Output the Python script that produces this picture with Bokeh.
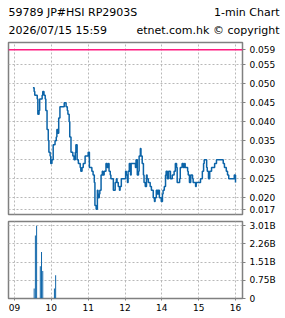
from bokeh.plotting import figure
from bokeh.models import Range1d, FixedTicker, Span, ColumnDataSource
from bokeh.layouts import column
from bokeh.embed import file_html
from bokeh.resources import INLINE
from bokeh.core.properties import value

# ---------------- data ----------------
title_left = "59789 JP#HSI  RP2903S"
title_right = "1-min Chart"
stamp = "2026/07/15 15:59"
credit = "etnet.com.hk \u00a9 copyright"

times = [
    "09:30", "09:32", "09:33", "09:37", "09:38", "09:40", "09:41", "09:45", "09:46", "09:48",
    "09:50", "09:51", "09:53", "09:55", "09:56", "09:58", "09:59", "10:01", "10:03", "10:06",
    "10:08", "10:09", "10:11", "10:12", "10:14", "10:21", "10:24", "10:26", "10:27", "10:29",
    "10:30", "10:32", "10:35", "10:37", "10:39", "10:40", "10:42", "10:44", "10:47", "10:48",
    "10:50", "10:52", "10:55", "11:00", "11:02", "11:06", "11:08", "11:10", "11:11", "11:13",
    "11:15", "11:16", "11:18", "11:19", "11:21", "11:23", "11:24", "11:26", "11:29", "11:31",
    "11:33", "11:34", "11:36", "11:37", "11:41", "11:44", "11:46", "11:47", "11:49", "11:51",
    "11:52", "11:54",
    "13:01", "13:02", "13:04", "13:05", "13:07", "13:09", "13:10", "13:17", "13:18", "13:20",
    "13:22", "13:23", "13:25", "13:26", "13:28", "13:30", "13:31", "13:33", "13:35", "13:36",
    "13:38", "13:41", "13:43", "13:46", "13:48", "13:49", "13:51", "13:53", "13:54", "13:56",
    "13:59", "14:01", "14:02", "14:04", "14:06", "14:07", "14:09", "14:11", "14:14", "14:17",
    "14:20", "14:22", "14:24", "14:25", "14:29", "14:30", "14:33", "14:35", "14:37", "14:38",
    "14:42", "14:43", "14:45", "14:47", "14:50", "14:51", "14:55", "14:56", "15:03", "15:06",
    "15:08", "15:09", "15:13", "15:14", "15:16", "15:18", "15:21", "15:26", "15:29", "15:40",
    "15:42", "15:45", "15:47", "15:49", "15:58", "16:00",
]
prices = [
    0.049, 0.048, 0.047, 0.046, 0.042, 0.043, 0.046, 0.047, 0.048, 0.047,
    0.046, 0.043, 0.038, 0.035, 0.032, 0.031, 0.029, 0.030, 0.034, 0.035,
    0.036, 0.038, 0.037, 0.041, 0.044, 0.045, 0.044, 0.043, 0.042, 0.040,
    0.036, 0.032, 0.031, 0.030, 0.032, 0.034, 0.030, 0.029, 0.028, 0.027,
    0.028, 0.029, 0.031, 0.032, 0.028, 0.027, 0.026, 0.024, 0.018, 0.017,
    0.022, 0.020, 0.021, 0.022, 0.026, 0.027, 0.026, 0.027, 0.029, 0.028,
    0.029, 0.027, 0.026, 0.025, 0.022, 0.024, 0.025, 0.024, 0.023, 0.022,
    0.023, 0.025,
    0.027, 0.026, 0.024, 0.027, 0.029, 0.026, 0.029, 0.028, 0.030, 0.026,
    0.027, 0.031, 0.033, 0.031, 0.029, 0.026, 0.024, 0.023, 0.026, 0.025,
    0.024, 0.023, 0.022, 0.020, 0.019, 0.020, 0.022, 0.021, 0.022, 0.020,
    0.019, 0.021, 0.022, 0.023, 0.026, 0.027, 0.025, 0.027, 0.025, 0.026,
    0.027, 0.029, 0.028, 0.024, 0.025, 0.028, 0.029, 0.028, 0.029, 0.028,
    0.027, 0.026, 0.024, 0.026, 0.025, 0.024, 0.023, 0.024, 0.025, 0.027,
    0.029, 0.030, 0.028, 0.027, 0.025, 0.027, 0.028, 0.029, 0.030, 0.029,
    0.028, 0.027, 0.026, 0.025, 0.026, 0.024,
]

vol_times = ["09:32", "09:34", "09:36", "09:42", "09:44", "09:46", "10:05", "10:07"]
vol_billions = [0.41, 2.61, 3.01, 1.33, 1.92, 1.14, 0.41, 0.96]

ref_price = 0.059
price_ticks = [0.017, 0.020, 0.025, 0.030, 0.035, 0.040, 0.045, 0.050, 0.055, 0.059]
vol_max = 3.01
vol_ticks = [0, vol_max * 0.25, vol_max * 0.5, vol_max * 0.75, vol_max]
vol_labels = ["0", "0.75B", "1.51B", "2.26B", "3.01B"]
hour_ticks = ["09:00", "10:00", "11:00", "12:00", "14:00", "15:00", "16:00"]
hour_labels = ["09", "10", "11", "12", "14", "15", "16"]


def pos(t):
    """Trading-minute position with the 12:00-13:00 lunch break removed."""
    h, m = map(int, t.split(":"))
    clock = h * 60 + m
    mins = clock - 540
    if clock >= 780:
        mins -= 60
    return mins


# ---------------- styles ----------------
FONT = "DejaVu Sans"
BLUE = "#0c64a8"
PINK = "#ff1a80"
FRAME = "#808080"
GRID = "#b8b8b8"

x_ticks = [pos(t) for t in hour_ticks]
x_range = Range1d(-9.8, 371.4)


def style(p):
    p.background_fill_color = "white"
    p.border_fill_color = "white"
    p.outline_line_color = FRAME
    p.outline_line_width = 1.5
    p.xgrid.ticker = FixedTicker(ticks=x_ticks)
    for g in (p.xgrid, p.ygrid):
        g.grid_line_color = GRID
        g.grid_line_dash = "2 2"
        g.grid_line_width = 1
    ya = p.yaxis[0]
    ya.axis_line_color = None
    ya.major_tick_line_color = FRAME
    ya.major_tick_in = 0
    ya.major_tick_out = 3
    ya.minor_tick_line_color = None
    ya.major_label_standoff = 4
    ya.major_label_text_font = FONT
    ya.major_label_text_font_size = "9px"
    ya.major_label_text_color = "black"


# ---------------- header (own root, so its frame spans the full width) ----------------
hdr = figure(width=285, height=40, x_range=Range1d(0, 285), y_range=Range1d(40, 0),
             output_backend="svg", toolbar_location=None, x_axis_location=None,
             y_axis_location=None, min_border=0)
hdr.outline_line_color = None
hdr.grid.visible = False
hdr.background_fill_color = "white"
hdr.border_fill_color = "white"
hsrc = ColumnDataSource(dict(
    x=[8, 279, 8, 279], y=[12, 12, 30, 30],
    text=[title_left, title_right, stamp, credit],
    align=["left", "right", "left", "right"]))
hdr.text(x="x", y="y", text="text", text_align="align", source=hsrc,
         text_font=value(FONT), text_font_size="11px", text_color="black",
         text_baseline="middle")

# ---------------- price panel ----------------
p1 = figure(width=285, height=178, x_range=x_range, y_range=Range1d(0.0156, 0.0609),
            output_backend="svg", toolbar_location=None, y_axis_location="right",
            x_axis_location=None, min_border_left=8, min_border_right=43,
            min_border_top=2, min_border_bottom=4)
style(p1)
p1.yaxis[0].ticker = FixedTicker(ticks=price_ticks)
p1.yaxis[0].major_label_overrides = {t: f"{t:.3f}" for t in price_ticks}
p1.ygrid.ticker = FixedTicker(ticks=price_ticks[:-1])

src = ColumnDataSource(dict(x=[pos(t) for t in times], y=prices))
p1.step("x", "y", source=src, mode="after", line_color=BLUE, line_width=1.5)
p1.add_layout(Span(location=ref_price, dimension="width", line_color=PINK, line_width=1.5))

# ---------------- volume panel ----------------
p2 = figure(width=285, height=100, x_range=x_range, y_range=Range1d(0, 3.187),
            output_backend="svg", toolbar_location=None, y_axis_location="right",
            min_border_left=8, min_border_right=43, min_border_top=3, min_border_bottom=20)
style(p2)
p2.yaxis[0].ticker = FixedTicker(ticks=vol_ticks)
p2.yaxis[0].major_label_overrides = dict(zip(vol_ticks, vol_labels))
p2.ygrid.ticker = FixedTicker(ticks=vol_ticks[1:])

xa = p2.xaxis[0]
xa.ticker = FixedTicker(ticks=x_ticks)
xa.major_label_overrides = dict(zip(x_ticks, hour_labels))
xa.axis_line_color = None
xa.major_tick_line_color = FRAME
xa.major_tick_in = 0
xa.major_tick_out = 2
xa.minor_tick_line_color = None
xa.major_label_standoff = 3
xa.major_label_text_font = FONT
xa.major_label_text_font_size = "9px"
xa.major_label_text_color = "black"

vsrc = ColumnDataSource(dict(x=[pos(t) for t in vol_times], top=vol_billions))
p2.vbar(x="x", top="top", bottom=0, width=1.6, source=vsrc, fill_color=BLUE,
        line_color=None)

charts = column(p1, p2, spacing=0)
open("out.html", "w").write(file_html([hdr, charts], INLINE))
